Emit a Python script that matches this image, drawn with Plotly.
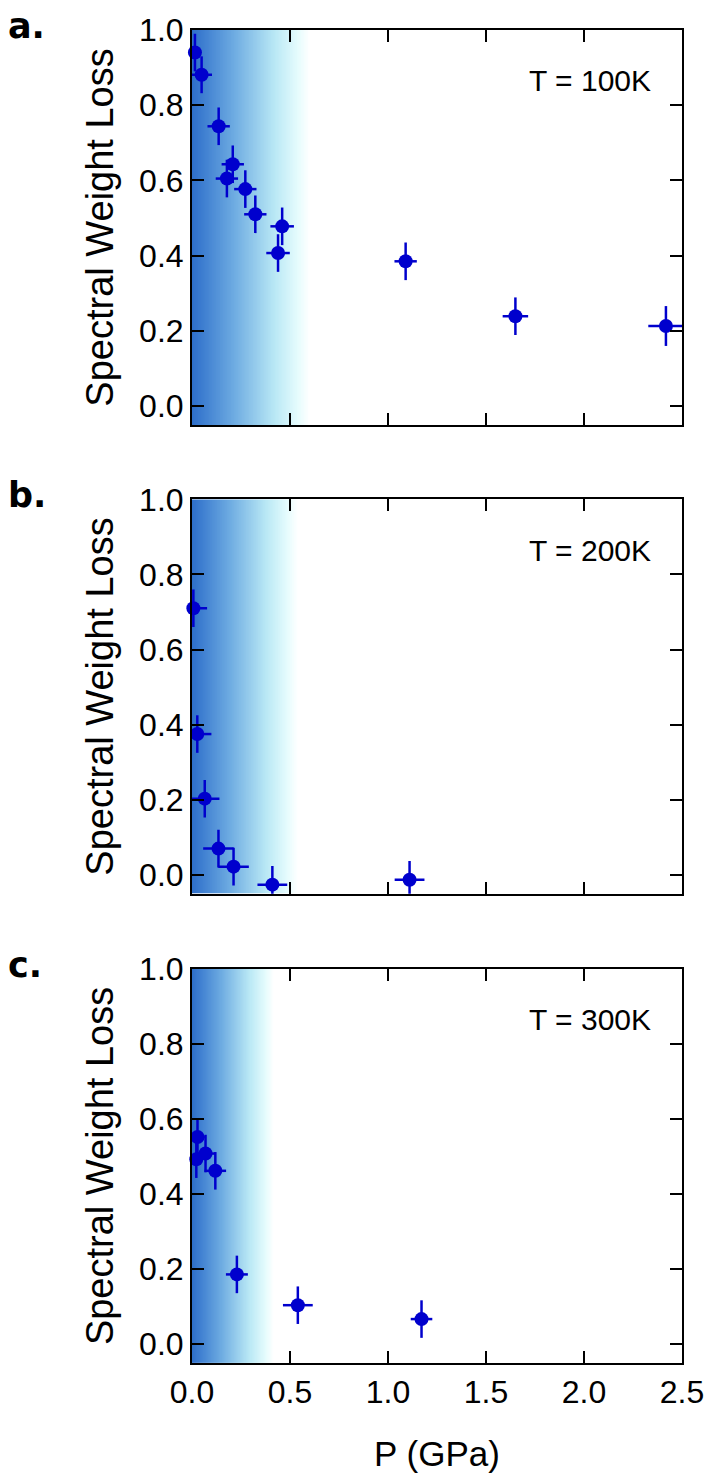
import numpy as np
import plotly.graph_objects as go

# ---- data ----
p_100 = [0.015, 0.049, 0.136, 0.208, 0.178, 0.272, 0.323, 0.460, 0.439, 1.090, 1.650, 2.418]
w_100 = [0.940, 0.881, 0.744, 0.643, 0.605, 0.577, 0.510, 0.478, 0.407, 0.385, 0.239, 0.213]
px_100 = [0.03, 0.053, 0.057, 0.057, 0.057, 0.057, 0.057, 0.06, 0.06, 0.057, 0.065, 0.09]
wy_100 = [0.05, 0.049, 0.05, 0.05, 0.05, 0.05, 0.05, 0.05, 0.05, 0.05, 0.05, 0.053]

p_200 = [0.007, 0.027, 0.065, 0.135, 0.212, 0.410, 1.110]
w_200 = [0.710, 0.375, 0.203, 0.070, 0.022, -0.026, -0.013]
px_200 = [0.07, 0.072, 0.075, 0.078, 0.078, 0.076, 0.076]
wy_200 = [0.05, 0.05, 0.05, 0.05, 0.05, 0.05, 0.05]

p_300 = [0.028, 0.022, 0.069, 0.119, 0.229, 0.540, 1.171]
w_300 = [0.552, 0.493, 0.508, 0.462, 0.186, 0.104, 0.067]
px_300 = [0.037, 0.03, 0.05, 0.055, 0.056, 0.076, 0.055]
wy_300 = [0.05, 0.05, 0.05, 0.05, 0.05, 0.05, 0.05]

temps = ["T = 100K", "T = 200K", "T = 300K"]
panel_letters = ["a.", "b.", "c."]
shade_end = [0.60, 0.54, 0.42]   # extent of blue shaded region (GPa)

x_ticks = [0.0, 0.5, 1.0, 1.5, 2.0, 2.5]
y_ticks = [0.0, 0.2, 0.4, 0.6, 0.8, 1.0]

series = [(p_100, w_100, px_100, wy_100),
          (p_200, w_200, px_200, wy_200),
          (p_300, w_300, px_300, wy_300)]

# ---- figure ----
W, H = 716, 1479
mt, mb = 23, 116
plot_h = H - mt - mb
# pixel boxes (top, bottom) for each panel
boxes = [(23.5, 420.0), (494.8, 891.2), (966.8, 1363.2)]
domains = [[(H - mb - b) / plot_h, (H - mb - t) / plot_h] for (t, b) in boxes]
domains[0][1] = 1.0
domains[2][0] = 0.0

fig = go.Figure()
marker_col = "rgb(0,0,205)"
shade_scale = [[0.0, "rgb(45,110,202)"], [0.35, "rgb(108,170,225)"],
               [0.7, "rgb(185,232,245)"], [0.9, "rgb(230,252,253)"], [1.0, "rgb(255,255,255)"]]

for i, (px_, wy_, ex, ey) in enumerate(series):
    xa = "x" if i == 0 else f"x{i+1}"
    ya = "y" if i == 0 else f"y{i+1}"
    n = 150
    edges = np.linspace(0, shade_end[i], n + 1)
    mids = (edges[:-1] + edges[1:]) / 2 / shade_end[i]
    fig.add_trace(go.Heatmap(x=edges, y=[-0.05, 1.0], z=[mids], colorscale=shade_scale,
                             zmin=0, zmax=1, showscale=False, hoverinfo="skip",
                             xaxis=xa, yaxis=ya))
    fig.add_trace(go.Scatter(x=px_, y=wy_, mode="markers",
                             marker=dict(color=marker_col, size=14),
                             error_x=dict(type="data", array=ex, color=marker_col, thickness=2.5, width=0),
                             error_y=dict(type="data", array=ey, color=marker_col, thickness=2.5, width=0),
                             showlegend=False, xaxis=xa, yaxis=ya, cliponaxis=False))

tick_font = dict(family="Liberation Sans, Arial", size=32, color="black")
ax_common = dict(showline=True, linecolor="black", linewidth=2, mirror="ticks",
                 ticks="inside", ticklen=12, tickwidth=2, tickcolor="black",
                 showgrid=False, zeroline=False, tickfont=tick_font)

layout = dict(width=W, height=H, paper_bgcolor="white", plot_bgcolor="white",
              margin=dict(l=192, r=28, t=mt, b=mb), showlegend=False,
              font=dict(family="Liberation Sans, Arial", color="black"))
for i in range(3):
    sx = "xaxis" if i == 0 else f"xaxis{i+1}"
    sy = "yaxis" if i == 0 else f"yaxis{i+1}"
    xa = dict(ax_common, range=[0, 2.5], tickvals=x_ticks, domain=[0, 1],
              anchor="y" if i == 0 else f"y{i+1}")
    if i < 2:
        xa["showticklabels"] = False
    else:
        xa["ticktext"] = [f"{v:.1f}" for v in x_ticks]
        xa["title"] = dict(text="P (GPa)", font=dict(size=35), standoff=32)
    if i > 0:
        xa["matches"] = "x"
    ya = dict(ax_common, range=[-0.05, 1.0], tickvals=y_ticks,
              ticktext=[f"{v:.1f}" for v in y_ticks], domain=domains[i],
              anchor="x" if i == 0 else f"x{i+1}",
              title=dict(text="Spectral Weight Loss", font=dict(size=38), standoff=14))
    layout[sx] = xa
    layout[sy] = ya
fig.update_layout(**layout)

for i in range(3):
    xr = "x" if i == 0 else f"x{i+1}"
    yr = "y" if i == 0 else f"y{i+1}"
    fig.add_annotation(x=2.35, y=0.865, xref=xr, yref=yr, text=temps[i], showarrow=False,
                       xanchor="right", yanchor="middle",
                       font=dict(family="Liberation Sans, Arial", size=30, color="black"))
    top_frac = domains[i][1]
    fig.add_annotation(x=-0.38, y=top_frac + 4 / plot_h, xref="paper", yref="paper",
                       text=f"<b>{panel_letters[i]}</b>", showarrow=False,
                       xanchor="left", yanchor="middle",
                       font=dict(family="DejaVu Sans", size=35, color="black"))

fig.write_html("out.html")
